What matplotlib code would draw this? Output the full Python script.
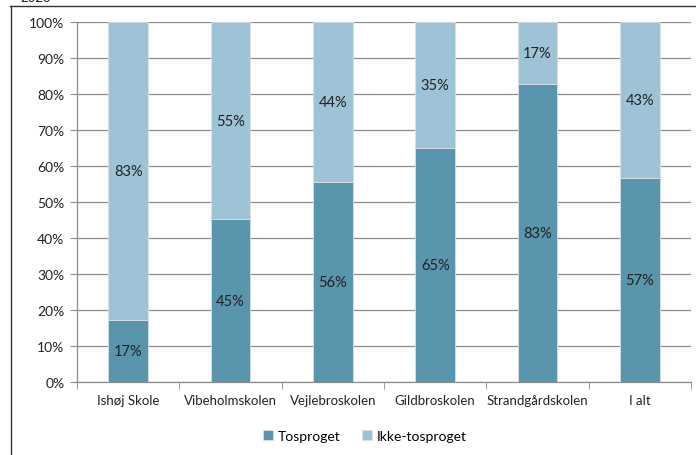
import matplotlib
matplotlib.use("Agg")
import matplotlib.pyplot as plt
from matplotlib.lines import Line2D
import numpy as np

categories = ["Ishøj Skole", "Vibeholmskolen", "Vejlebroskolen", "Gildbroskolen", "Strandgårdskolen", "I alt"]
tosproget = [17.1, 45.2, 55.6, 64.9, 82.7, 56.6]
ikke_tosproget = [82.9, 54.8, 44.4, 35.1, 17.3, 43.4]
yticks = [0, 10, 20, 30, 40, 50, 60, 70, 80, 90, 100]

plt.rcParams['font.family'] = ['Lato', 'DejaVu Sans']

dark = "#5a95ae"
light = "#9ec3d6"
grid_c = "#8c8c8c"

fig = plt.figure(figsize=(6.96, 4.56), dpi=100)
ax = fig.add_axes([77/696, 73/456, 614/696, 360/456])

x = np.arange(len(categories))
w = 0.39
ax.bar(x, tosproget, width=w, color=dark, edgecolor="#d8dfe3", linewidth=0.6, zorder=3, label="Tosproget")
ax.bar(x, ikke_tosproget, width=w, bottom=tosproget, color=light, edgecolor="#d8dfe3", linewidth=0.6, zorder=3, label="Ikke-tosproget")

for i in range(len(categories)):
    ax.text(x[i], tosproget[i] / 2, f"{tosproget[i]:.0f}%", ha="center", va="center", fontsize=10.5, color="#222222", zorder=4)
    ax.text(x[i], tosproget[i] + ikke_tosproget[i] / 2, f"{ikke_tosproget[i]:.0f}%", ha="center", va="center", fontsize=10.5, color="#222222", zorder=4)

ax.set_xlim(-0.5, len(categories) - 0.5)
ax.set_ylim(0, 100)
ax.set_yticks(yticks)
ax.set_yticklabels([f"{t}%" for t in yticks])
ax.yaxis.grid(True, color=grid_c, linewidth=0.9, zorder=0)
ax.tick_params(axis="y", length=5, color=grid_c, labelsize=10, pad=4, labelcolor="#222222")

ax.set_xticks(x)
ax.set_xticklabels(categories)
ax.set_xticks(np.arange(-0.5, len(categories)), minor=True)
ax.tick_params(axis="x", which="major", length=0, labelsize=9.5, pad=9, labelcolor="#222222")
ax.tick_params(axis="x", which="minor", length=5, color=grid_c)

for s in ["top", "right"]:
    ax.spines[s].set_visible(False)
ax.spines["left"].set_color(grid_c)
ax.spines["bottom"].set_color(grid_c)
ax.spines["left"].set_linewidth(0.9)
ax.spines["bottom"].set_linewidth(0.9)

fig.legend(loc="center", bbox_to_anchor=(365/696, 1 - 437/456), ncol=2, frameon=False,
           fontsize=10, handlelength=0.7, handleheight=0.7, handletextpad=0.4, columnspacing=1.5)

# page border lines
fig.add_artist(Line2D([10/696, 1.0], [1 - 7/456, 1 - 7/456], color="#333333", linewidth=1.0))
fig.add_artist(Line2D([11/696, 11/696], [0, 1 - 7/456], color="#333333", linewidth=1.0))
fig.text(20/696, 1 + 2/456, "2020", fontsize=9.5, va="center", ha="left", color="#222222")

fig.savefig("out.png", dpi=100)
